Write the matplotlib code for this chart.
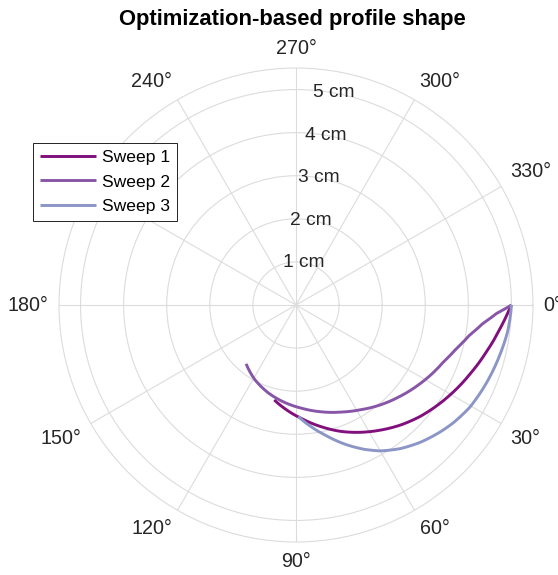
import matplotlib.pyplot as plt
import numpy as np

# ─── data (theta in degrees, clockwise from east; r in cm) ───
theta_1 = [0, 1.8, 6.5, 13.8, 21.4, 30.3, 38.5, 42.0, 49.1, 56.1, 63.2, 70.2, 78.1, 87.1, 96.1, 102.9]
r_1     = [5.00, 4.93, 4.77, 4.55, 4.35, 4.14, 3.95, 3.87, 3.69, 3.50, 3.31, 3.12, 2.89, 2.64, 2.42, 2.26]

theta_2 = [0, 2.4, 5.6, 9.8, 15.1, 21.0, 27.6, 32.8, 41.4, 50.0, 58.6, 66.9, 76.5, 86.8, 96.4, 107.4, 118.7, 130.3]
r_2     = [5.00, 4.66, 4.36, 4.09, 3.86, 3.67, 3.52, 3.40, 3.21, 3.03, 2.85, 2.70, 2.55, 2.40, 2.28, 2.14, 1.98, 1.79]

theta_3 = [0, 1.8, 7.2, 13.8, 21.9, 30.5, 36.9, 41.3, 47.8, 54.0, 60.0, 64.8, 70.5, 76.2, 82.6, 88.8]
r_3     = [5.00, 4.99, 4.95, 4.87, 4.78, 4.68, 4.56, 4.46, 4.30, 4.12, 3.91, 3.70, 3.43, 3.15, 2.86, 2.59]

labels = ['Sweep 1', 'Sweep 2', 'Sweep 3']
colors = ['#810f7c', '#8856a7', '#8c96c6']

r_ticks = [1, 2, 3, 4, 5]
r_tick_labels = ['1 cm', '2 cm', '3 cm', '4 cm', '5 cm']
theta_ticks = list(range(0, 360, 30))

plt.rcParams['font.family'] = ['Liberation Sans', 'DejaVu Sans']

fig = plt.figure(figsize=(5.58, 5.75), dpi=100)
ax = fig.add_axes([0.1057, 0.0574, 0.8495, 0.8243], projection='polar')
ax.set_theta_zero_location('E')
ax.set_theta_direction(-1)

for th, r, lab, c in zip([theta_1, theta_2, theta_3], [r_1, r_2, r_3], labels, colors):
    ln, = ax.plot(np.deg2rad(th), r, color=c, lw=2.1, label=lab,
                  solid_capstyle='butt', solid_joinstyle='round')
    ln.get_path()._interpolation_steps = 25   # draw each segment as a smooth polar arc

ax.set_ylim(0, 5.5)
ax.set_rgrids(r_ticks, labels=[''] * len(r_ticks))
ax.set_thetagrids(theta_ticks, labels=[f'{t}°' for t in theta_ticks], fontsize=14.2, color='#262626')
ax.tick_params(axis='x', pad=-3)
for t, lbl in zip(theta_ticks, ax.get_xticklabels()):
    c, s = np.cos(np.deg2rad(t)), np.sin(np.deg2rad(t))
    lbl.set_ha('left' if c > 0.1 else ('right' if c < -0.1 else 'center'))
    lbl.set_va('top' if s > 0.1 else ('bottom' if s < -0.1 else 'center'))
ax.grid(color='#dcdcdc', linewidth=0.8)
ax.spines['polar'].set_color('#dcdcdc')
ax.spines['polar'].set_linewidth(0.8)

# radius labels along the 280° spoke
for rv, txt in zip(r_ticks, r_tick_labels):
    ax.text(np.deg2rad(280), rv, txt, ha='center', va='center', fontsize=13.8, color='#262626')

fig.text(292 / 558, 1 - 25 / 575, 'Optimization-based profile shape', ha='center', va='baseline',
         fontsize=15.8, fontweight='bold', color='black')

leg = ax.legend(loc='upper left', bbox_to_anchor=(33 / 558, 1 - 143 / 575), bbox_transform=fig.transFigure,
                borderaxespad=0, fancybox=False, edgecolor='black', framealpha=1, fontsize=12.6,
                handlelength=3.2, handletextpad=0.35, labelspacing=0.52, borderpad=0.4)
leg.get_frame().set_linewidth(0.6)

fig.savefig('out.png', dpi=100)
